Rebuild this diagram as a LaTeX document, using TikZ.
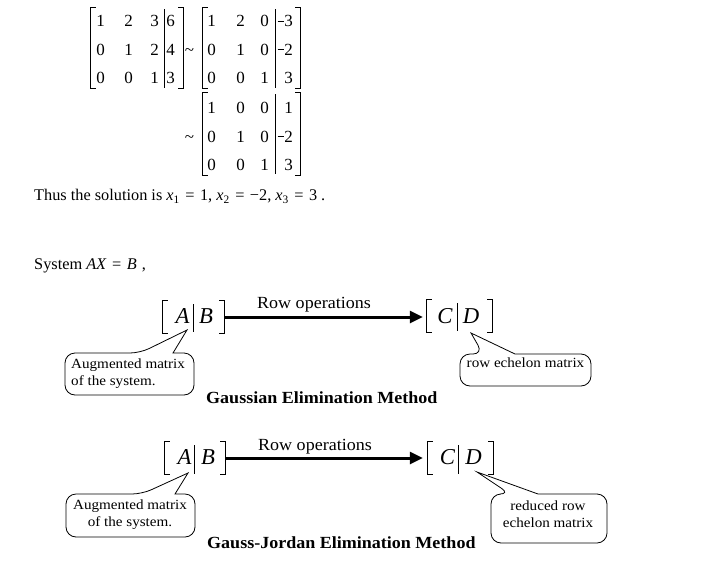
\documentclass[tikz,border=0pt]{standalone}
\usepackage{fontspec}
\setmainfont{Liberation Serif}
\newfontfamily\calfont[FakeStretch=1.08]{Liberation Serif}
\newfontfamily\widefont[FakeStretch=1.06]{Liberation Serif}
\usetikzlibrary{arrows.meta}
\newcommand\myeq{\hspace{5.5pt}=\hspace{5.5pt}}
\newcommand\mminus{\rule[5.3pt]{6.2pt}{0.8pt}\kern0.6pt}
\begin{document}
\begin{tikzpicture}[x=1pt,y=-1pt,
  dig/.style={inner sep=0, anchor=base east, font=\fontsize{17}{20}\selectfont},
  txt/.style={inner sep=0, anchor=base west, font=\fontsize{16.3}{20}\selectfont},
  rowop/.style={inner sep=0, anchor=base, font=\widefont\fontsize{17}{20}\selectfont},
  big/.style={inner sep=0, anchor=base, font=\fontsize{22.7}{26}\selectfont\itshape},
  ttl/.style={inner sep=0, anchor=base west, font=\widefont\bfseries\fontsize{17}{20}\selectfont},
  ctxt/.style={inner sep=0, font=\calfont\fontsize{14}{17}\selectfont},
  box/.style={inner sep=0, draw=none, rectangle},
  brk/.style={line width=0.9pt},
  mbrk/.style={line width=1pt},
  arr/.style={line width=3pt, -{Triangle[length=13pt,width=12pt]}},
  callout/.style={line width=0.8pt},
]
\useasboundingbox (0,0) rectangle (714,570);
\fill[white] (0,0) rectangle (714,570);

% ---------- matrices ----------
\node[box, minimum width=92, minimum height=80] (M1) at (137,48) {};
\node[box, minimum width=97, minimum height=80] (M2) at (251.5,48) {};
\node[box, minimum width=97, minimum height=82] (M3) at (251.5,134) {};
\foreach \m in {M1,M2,M3}{
  \draw[mbrk] ([xshift=5]\m.north west) -- (\m.north west) -- (\m.south west) -- ([xshift=5]\m.south west);
  \draw[mbrk] ([xshift=-5]\m.north east) -- (\m.north east) -- (\m.south east) -- ([xshift=-5]\m.south east);
}
\draw[mbrk] (164,9) -- (164,88);
\draw[mbrk] (275,9) -- (275,88);
\draw[mbrk] (275,94) -- (275,174);

% matrix 1
\node[dig] (m1a) at (105,27) {1};  \node[dig] (m1b) at (133,27) {2};  \node[dig] (m1c) at (159,27) {3};  \node[dig] (m1d) at (175,27) {6};
\node[dig] (m1e) at (105,55) {0};  \node[dig] (m1f) at (133,55) {1};  \node[dig] (m1g) at (159,55) {2};  \node[dig] (m1h) at (175,55) {4};
\node[dig] (m1i) at (105,83) {0};  \node[dig] (m1j) at (133,83) {0};  \node[dig] (m1k) at (159,83) {1};  \node[dig] (m1l) at (175,83) {3};
% matrix 2
\node[dig] (m2a) at (216,27) {1};  \node[dig] (m2b) at (245,27) {2};  \node[dig] (m2c) at (269,27) {0};  \node[dig] (m2d) at (293,27) {\mminus 3};
\node[dig] (m2e) at (216,55) {0};  \node[dig] (m2f) at (245,55) {1};  \node[dig] (m2g) at (269,55) {0};  \node[dig] (m2h) at (293,55) {\mminus 2};
\node[dig] (m2i) at (216,83) {0};  \node[dig] (m2j) at (245,83) {0};  \node[dig] (m2k) at (269,83) {1};  \node[dig] (m2l) at (293,83) {3};
% matrix 3
\node[dig] (m3a) at (216,113) {1}; \node[dig] (m3b) at (245,113) {0}; \node[dig] (m3c) at (269,113) {0}; \node[dig] (m3d) at (293,113) {1};
\node[dig] (m3e) at (216,142) {0}; \node[dig] (m3f) at (245,142) {1}; \node[dig] (m3g) at (269,142) {0}; \node[dig] (m3h) at (293,142) {\mminus 2};
\node[dig] (m3i) at (216,170) {0}; \node[dig] (m3j) at (245,170) {0}; \node[dig] (m3k) at (269,170) {1}; \node[dig] (m3l) at (293,170) {3};
% tildes
\node[dig, anchor=base] (t1) at (189.5,55) {\textasciitilde};
\node[dig, anchor=base] (t2) at (189.5,142) {\textasciitilde};

% ---------- text lines ----------
\node[txt] (thus) at (34,200.5) {Thus the solution is \textit{x}\textsubscript{1}\myeq 1, \textit{x}\textsubscript{2}\myeq −2, \textit{x}\textsubscript{3}\myeq 3\hspace{4pt}.};
\node[txt] (sys) at (34,269) {System \textit{AX}\myeq\textit{B}\hspace{5pt},};

% ---------- diagram 1 ----------
\node[box, minimum width=61, minimum height=32] (AB1) at (193.5,317) {};
\node[box, minimum width=65, minimum height=32] (CD1) at (459.5,316) {};
\node[big] (A1) at (182.5,323) {A};
\node[big] (B1) at (206,323) {B};
\node[big] (C1) at (445,323) {C};
\node[big] (D1) at (471,323) {D};
\foreach \m in {AB1,CD1}{
  \draw[brk] ([xshift=5]\m.north west) -- (\m.north west) -- (\m.south west) -- ([xshift=5]\m.south west);
  \draw[brk] ([xshift=-5]\m.north east) -- (\m.north east) -- (\m.south east) -- ([xshift=-5]\m.south east);
}
\draw[brk] (193,304) -- (193,332);
\draw[brk] (457,303) -- (457,331);
\draw[arr, shorten >=4pt] (AB1.east) -- (AB1.east -| CD1.west);
\node[rowop] (R1) at (314,308) {Row operations};

% callout 1
\coordinate (tip1) at (187,330);
\draw[callout] (173,353) [rounded corners=10] -- (194,353) -- (194,395) -- (65,395) -- (65,353) -- (140,353) [sharp corners] -- (tip1) -- cycle;
\node[ctxt, anchor=base west] (c1a) at (71,368) {Augmented matrix};
\node[ctxt, anchor=base west] (c1b) at (71,385) {of the system.};
% callout 2
\coordinate (tip2) at (471,333);
\draw[callout] (515,354) [rounded corners=10] -- (591,354) -- (591,386) -- (460,386) -- (460,354) -- (483,354) [sharp corners] -- (tip2) -- cycle;
\node[ctxt, anchor=base] (c2a) at (525.5,367) {row echelon matrix};

\node[ttl] (G1) at (206,403) {Gaussian Elimination Method};

% ---------- diagram 2 ----------
\node[box, minimum width=60, minimum height=32] (AB2) at (195,458) {};
\node[box, minimum width=65, minimum height=32] (CD2) at (460.5,458) {};
\node[big] (A2) at (184.5,464) {A};
\node[big] (B2) at (208,464) {B};
\node[big] (C2) at (447.5,464) {C};
\node[big] (D2) at (473.5,464) {D};
\foreach \m in {AB2,CD2}{
  \draw[brk] ([xshift=5]\m.north west) -- (\m.north west) -- (\m.south west) -- ([xshift=5]\m.south west);
  \draw[brk] ([xshift=-5]\m.north east) -- (\m.north east) -- (\m.south east) -- ([xshift=-5]\m.south east);
}
\draw[brk] (194,445) -- (194,474);
\draw[brk] (458,445) -- (458,474);
\draw[arr, shorten >=5pt] (AB2.east) -- (CD2.west);
\node[rowop] (R2) at (315,450) {Row operations};

% callout 3
\coordinate (tip3) at (188,473);
\draw[callout] (175,494) [rounded corners=10] -- (195,494) -- (195,537) -- (66,537) -- (66,494) -- (142,494) [sharp corners] -- (tip3) -- cycle;
\node[ctxt, anchor=base] (c3a) at (130,509) {Augmented matrix};
\node[ctxt, anchor=base] (c3b) at (130,526) {of the system.};
% callout 4
\coordinate (tip4) at (477,472);
\draw[callout] (538,494) [rounded corners=10] -- (607,494) -- (607,543) -- (491,543) -- (491,494) -- (510,494) [sharp corners] -- (tip4) -- cycle;
\node[ctxt, anchor=base] (c4a) at (548,510) {reduced row};
\node[ctxt, anchor=base] (c4b) at (548,527) {echelon matrix};

\node[ttl] (G2) at (207,548) {Gauss-Jordan Elimination Method};
\end{tikzpicture}
\end{document}
